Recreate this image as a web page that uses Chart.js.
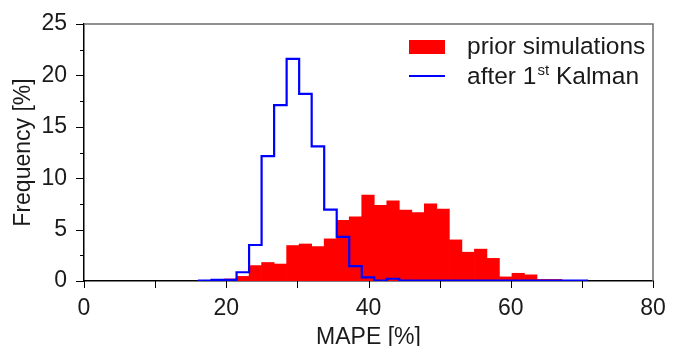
<!DOCTYPE html>
<html>
<head>
<meta charset="utf-8">
<script src="https://cdn.jsdelivr.net/npm/chart.js@4.4.0/dist/chart.umd.min.js"></script>
<style>
  html, body { margin: 0; padding: 0; background: #fff; }
  #wrap { width: 679px; height: 346px; }
</style>
</head>
<body>
<div id="wrap"><canvas id="chart"></canvas></div>
<script>
// histogram bin edges (MAPE %)
const binEdges = [16.17, 17.93, 19.69, 21.45, 23.21, 24.97, 26.73, 28.49, 30.25, 32.01,
  33.77, 35.53, 37.29, 39.05, 40.81, 42.57, 44.33, 46.09, 47.85, 49.61, 51.37,
  53.13, 54.89, 56.65, 58.41, 60.17, 61.93, 63.69, 65.45, 67.21, 68.97, 70.73];
// frequency [%] per bin
const priorSim = [0, 0.1, 0.2, 0.45, 1.5, 1.8, 1.65, 3.45, 3.6, 3.35,
  4.1, 5.9, 6.25, 8.35, 7.35, 7.8, 6.9, 6.65, 7.5, 7.0,
  4.0, 2.8, 3.1, 2.2, 0.4, 0.75, 0.6, 0.15, 0.15, 0, 0];
const afterKalman = [0.05, 0.1, 0.1, 0.85, 3.5, 12.15, 17.1, 21.6, 18.2, 13.1,
  6.95, 4.3, 1.45, 0.35, 0.05, 0.22, 0.05, 0.05, 0.05, 0.05,
  0.05, 0.05, 0.05, 0.05, 0.05, 0.05, 0.05, 0.05, 0.05, 0.05, 0.05];
const xTickLabels = [0, 20, 40, 60, 80];
const yTickLabels = [0, 5, 10, 15, 20, 25];

const FONT = '"Liberation Sans", Arial, sans-serif';

const barData = priorSim.map((v, i) => ({ x: (binEdges[i] + binEdges[i + 1]) / 2, y: v }));
const stepData = [{ x: binEdges[0], y: 0 }];
afterKalman.forEach((v, i) => stepData.push({ x: binEdges[i], y: v }));
stepData.push({ x: binEdges[binEdges.length - 1], y: 0 });

// outside ticks + grey frame on top/right
const axisDecor = {
    id: 'axisDecor',
    afterDraw(chart) {
        const { ctx, chartArea: a, scales } = chart;
        ctx.save();
        ctx.strokeStyle = '#000';
        ctx.lineWidth = 1;
        ctx.beginPath();
        scales.x.ticks.forEach(t => {
            const px = Math.round(scales.x.getPixelForValue(t.value)) + 0.5;
            ctx.moveTo(px, a.bottom);
            ctx.lineTo(px, a.bottom + 7);
        });
        scales.y.ticks.forEach(t => {
            const py = Math.round(scales.y.getPixelForValue(t.value)) + 0.5;
            const len = yTickLabels.includes(t.value) ? 8 : 4;
            ctx.moveTo(a.left, py);
            ctx.lineTo(a.left - len, py);
        });
        ctx.stroke();

        ctx.strokeStyle = '#6e6e6e';
        ctx.lineWidth = 1.5;
        ctx.beginPath();
        ctx.moveTo(a.left, a.top);
        ctx.lineTo(a.right, a.top);
        ctx.lineTo(a.right, a.bottom);
        ctx.stroke();
        ctx.restore();
    }
};

// legend with superscript
const customLegend = {
    id: 'customLegend',
    afterDraw(chart) {
        const { ctx, chartArea: a } = chart;
        const x0 = a.right - 244;
        const tx = a.right - 186;
        ctx.save();
        ctx.fillStyle = '#ff0000';
        ctx.fillRect(x0, a.top + 16, 36, 14);
        ctx.strokeStyle = '#0000ff';
        ctx.lineWidth = 2;
        ctx.beginPath();
        ctx.moveTo(x0, a.top + 52);
        ctx.lineTo(x0 + 36, a.top + 52);
        ctx.stroke();

        ctx.fillStyle = '#1a1a1a';
        ctx.textBaseline = 'alphabetic';
        ctx.font = '24.5px ' + FONT;
        ctx.fillText('prior simulations', tx, a.top + 30);
        const base2 = a.top + 60;
        ctx.fillText('after 1', tx, base2);
        const w = ctx.measureText('after 1').width;
        ctx.font = '15px ' + FONT;
        ctx.fillText('st', tx + w + 1, base2 - 9);
        const w2 = ctx.measureText('st').width;
        ctx.font = '24.5px ' + FONT;
        ctx.fillText(' Kalman', tx + w + w2 + 1, base2);
        ctx.restore();
    }
};

new Chart(document.getElementById('chart'), {
    data: {
        datasets: [
            {
                type: 'line',
                label: 'after 1st Kalman',
                data: stepData,
                stepped: 'before',
                borderColor: '#0000ff',
                borderWidth: 2.2,
                pointRadius: 0,
                fill: false,
                order: 0
            },
            {
                type: 'bar',
                label: 'prior simulations',
                data: barData,
                backgroundColor: '#ff0000',
                borderWidth: 0,
                barPercentage: 1.0,
                categoryPercentage: 1.0,
                order: 1
            }
        ]
    },
    options: {
        responsive: true,
        maintainAspectRatio: false,
        animation: false,
        layout: { padding: { left: 0, right: 26, top: 24, bottom: 0 } },
        plugins: {
            legend: { display: false },
            tooltip: { enabled: false }
        },
        scales: {
            x: {
                type: 'linear',
                min: 0,
                max: 80,
                offset: false,
                afterFit: s => { s.height = 65; },
                grid: { display: false },
                border: { display: true, color: '#000', width: 1.5 },
                ticks: {
                    stepSize: 10,
                    autoSkip: false,
                    maxRotation: 0,
                    padding: 6,
                    color: '#1a1a1a',
                    font: { family: FONT, size: 23 },
                    callback: v => xTickLabels.includes(v) ? v : ''
                },
                title: {
                    display: true,
                    text: 'MAPE [%]',
                    color: '#1a1a1a',
                    font: { family: FONT, size: 23 },
                    padding: { top: 0, bottom: -5 }
                }
            },
            y: {
                min: 0,
                max: 25,
                afterFit: s => { s.width = 84; },
                grid: { display: false },
                border: { display: true, color: '#000', width: 1.5 },
                ticks: {
                    stepSize: 2.5,
                    autoSkip: false,
                    padding: 9,
                    color: '#1a1a1a',
                    font: { family: FONT, size: 23 },
                    callback: v => yTickLabels.includes(v) ? v : ''
                },
                title: {
                    display: true,
                    text: 'Frequency [%]',
                    color: '#1a1a1a',
                    font: { family: FONT, size: 23 },
                    padding: { top: 10, bottom: 0 }
                }
            }
        }
    },
    plugins: [axisDecor, customLegend]
});
</script>
</body>
</html>
